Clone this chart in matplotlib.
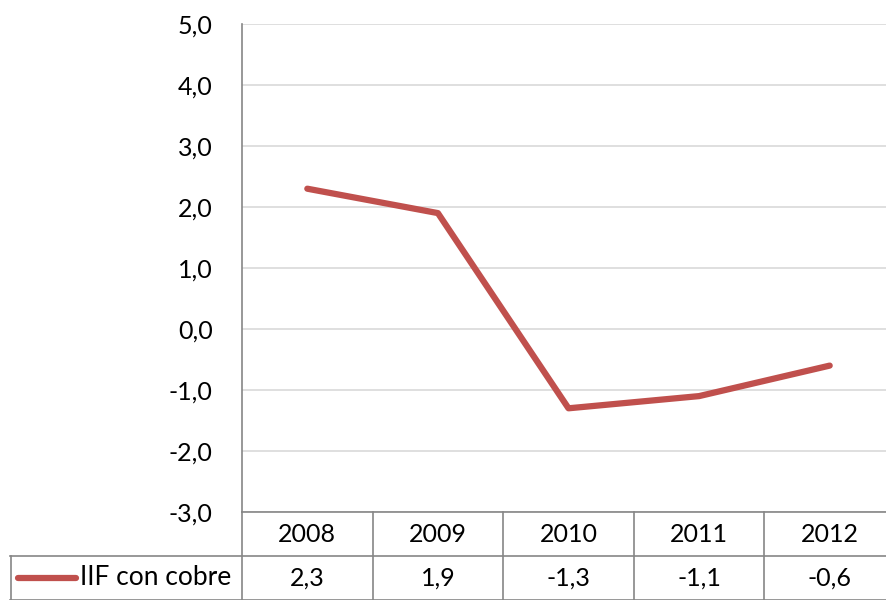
import matplotlib
matplotlib.use("Agg")
import matplotlib.pyplot as plt
from matplotlib.lines import Line2D
from matplotlib.transforms import blended_transform_factory

years = ["2008", "2009", "2010", "2011", "2012"]
iif_cobre = [2.3, 1.9, -1.3, -1.1, -0.6]
series_name = "IIF con cobre"
y_ticks = [-3.0, -2.0, -1.0, 0.0, 1.0, 2.0, 3.0, 4.0, 5.0]

W, H = 886, 600
plt.rcParams["font.family"] = ["Lato", "DejaVu Sans"]
fig = plt.figure(figsize=(W / 100, H / 100), dpi=100)

# plot area runs slightly past the right edge of the canvas
left, right, top, bottom = 242, 895, 24, 512
ax = fig.add_axes([left / W, 1 - bottom / H, (right - left) / W, (bottom - top) / H])

red = "#C0504D"
grid = "#D9D9D9"
border = "#868686"
fs = 18

x = list(range(len(years)))
ax.plot(x, iif_cobre, color=red, lw=4.5, solid_capstyle="round", solid_joinstyle="round", zorder=3)

ax.set_xlim(-0.5, len(years) - 0.5)
ax.set_ylim(y_ticks[0], y_ticks[-1])
ax.set_yticks(y_ticks)
ax.set_yticklabels([f"{v:.1f}".replace(".", ",") for v in y_ticks], fontsize=fs)
ax.tick_params(axis="y", length=0, pad=21)
ax.set_xticks([])
for yv in y_ticks:
    ax.axhline(yv, color=grid, lw=1.2, zorder=1)
for s in ["top", "right", "bottom"]:
    ax.spines[s].set_visible(False)
ax.spines["left"].set_color(border)
ax.spines["left"].set_linewidth(1.2)

# Data table under the plot area
tr = blended_transform_factory(ax.transData, fig.transFigure)

def fy(py):
    return 1 - py / H

row1_top, row1_bot, row2_bot = 512, 556, 599.5
# horizontal rules
fig.add_artist(Line2D([left / W, 1], [fy(row1_top)] * 2, color=border, lw=1.2))
fig.add_artist(Line2D([10 / W, 1], [fy(row1_bot)] * 2, color=border, lw=1.2))
fig.add_artist(Line2D([10 / W, 1], [fy(row2_bot)] * 2, color=border, lw=1.2))
# vertical rules
fig.add_artist(Line2D([left / W] * 2, [fy(row1_top), fy(row2_bot)], color=border, lw=1.2))
fig.add_artist(Line2D([10.5 / W] * 2, [fy(row1_bot), fy(row2_bot)], color=border, lw=1.2))
for i in range(1, len(years)):
    ax.add_artist(Line2D([i - 0.5] * 2, [fy(row1_top), fy(row2_bot)], transform=tr,
                         color=border, lw=1.2, clip_on=False))

for i, (yr, v) in enumerate(zip(years, iif_cobre)):
    ax.text(i, fy((row1_top + row1_bot) / 2), yr, transform=tr, ha="center", va="center", fontsize=fs)
    ax.text(i, fy((row1_bot + row2_bot) / 2), f"{v:.1f}".replace(".", ","), transform=tr,
            ha="center", va="center", fontsize=fs)

# legend key in the row header
ymid = fy((row1_bot + row2_bot) / 2)
fig.add_artist(Line2D([18 / W, 76 / W], [ymid, ymid], color=red, lw=4.5, solid_capstyle="round"))
fig.text(80 / W, ymid, series_name, ha="left", va="center", fontsize=fs + 1)

fig.savefig("out.png", dpi=100)
